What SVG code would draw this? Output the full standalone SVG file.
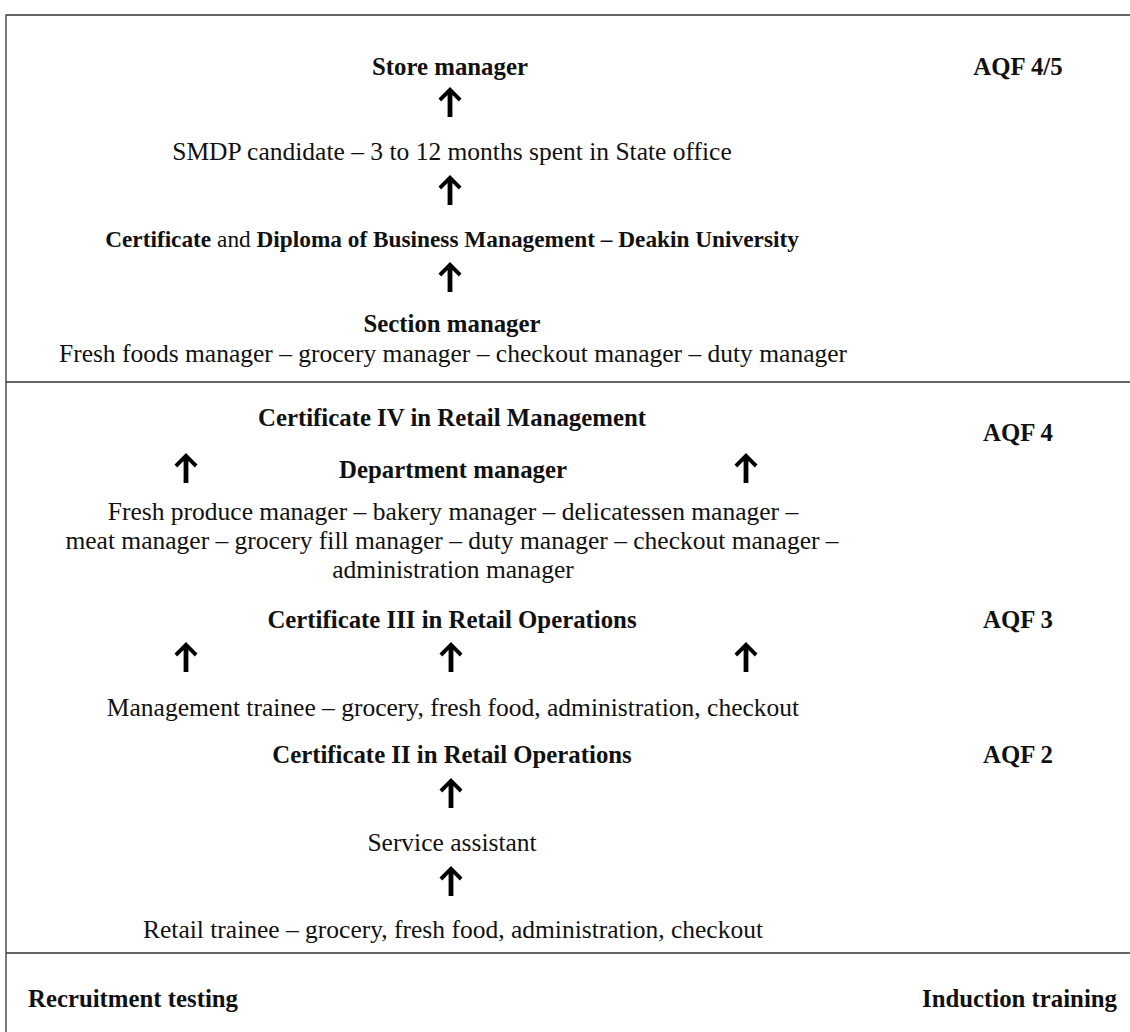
<svg xmlns="http://www.w3.org/2000/svg" width="1130" height="1032" viewBox="0 0 1130 1032">
<style>
text{font-family:"Liberation Serif","Times New Roman",serif;font-size:25.5px;fill:#111;}
.c{text-anchor:middle;}
.b{font-weight:bold;font-size:24.8px;}
.r{font-weight:normal;}
.dip{font-size:23.3px;}
.rule{stroke:#333;stroke-width:1.3;fill:none;}
</style>
<defs>
<path id="up" d="M0,0 L11.5,11.5 L8.8,14.4 L2.4,8 L2.4,30 L-2.4,30 L-2.4,8 L-8.8,14.4 L-11.5,11.5 Z" fill="#000"/>
</defs>
<rect width="1130" height="1032" fill="#fff"/>
<g id="frame">
<path class="rule" d="M6,1032 V15 H1130"/>
<path class="rule" d="M6,382 H1130"/>
<path class="rule" d="M6,953 H1130"/>
</g>
<g id="store-manager"><text class="c b" x="450" y="75">Store manager</text></g>
<g id="aqf45"><text class="c b" x="1018" y="75">AQF 4/5</text></g>
<g id="smdp"><text class="c" x="452" y="160">SMDP candidate – 3 to 12 months spent in State office</text></g>
<g id="diploma"><text class="c b dip" x="452" y="247">Certificate<tspan class="r"> and </tspan>Diploma of Business Management – Deakin University</text></g>
<g id="section-manager"><text class="c b" x="452" y="332">Section manager</text>
<text class="c" x="453" y="362">Fresh foods manager – grocery manager – checkout manager – duty manager</text></g>
<g id="cert4"><text class="c b" x="452" y="426">Certificate IV in Retail Management</text></g>
<g id="aqf4"><text class="c b" x="1018" y="441">AQF 4</text></g>
<g id="department-manager"><text class="c b" x="453" y="478">Department manager</text>
<text class="c" x="453" y="520">Fresh produce manager – bakery manager – delicatessen manager –</text>
<text class="c" x="452" y="549">meat manager – grocery fill manager – duty manager – checkout manager –</text>
<text class="c" x="453" y="578">administration manager</text></g>
<g id="cert3"><text class="c b" x="452" y="628">Certificate III in Retail Operations</text></g>
<g id="aqf3"><text class="c b" x="1018" y="628">AQF 3</text></g>
<g id="management-trainee"><text class="c" x="453" y="716">Management trainee – grocery, fresh food, administration, checkout</text></g>
<g id="cert2"><text class="c b" x="452" y="763">Certificate II in Retail Operations</text></g>
<g id="aqf2"><text class="c b" x="1018" y="763">AQF 2</text></g>
<g id="service-assistant"><text class="c" x="452" y="851">Service assistant</text></g>
<g id="retail-trainee"><text class="c" x="453" y="938">Retail trainee – grocery, fresh food, administration, checkout</text></g>
<g id="recruitment"><text class="b" x="28" y="1007">Recruitment testing</text></g>
<g id="induction"><text class="b" x="1117" y="1007" text-anchor="end">Induction training</text></g>
<g id="connectors">
<use href="#up" x="450" y="87"/>
<use href="#up" x="450" y="175"/>
<use href="#up" x="450" y="262"/>
<use href="#up" x="186" y="453"/>
<use href="#up" x="746" y="453"/>
<use href="#up" x="186" y="642"/>
<use href="#up" x="451" y="642"/>
<use href="#up" x="746" y="642"/>
<use href="#up" x="451" y="778"/>
<use href="#up" x="451" y="866"/>
</g>
</svg>
